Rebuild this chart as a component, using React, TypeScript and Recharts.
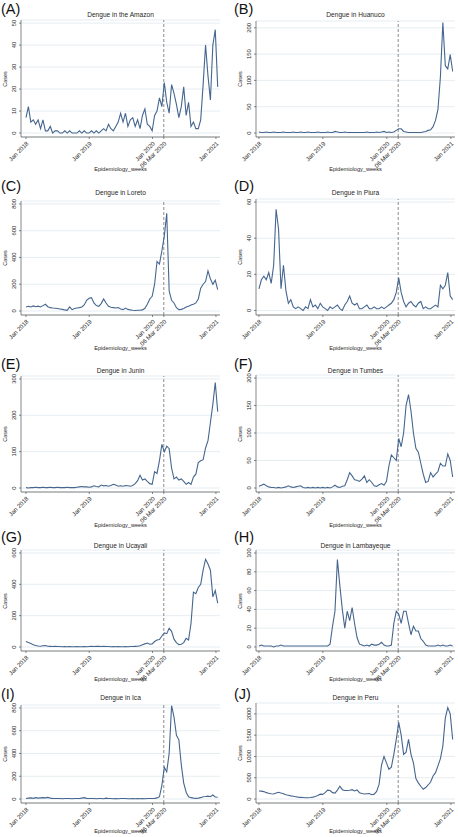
import React from "react";
import { LineChart, Line, XAxis, YAxis, CartesianGrid, ReferenceLine } from "recharts";

// epidemiological week index (0 = first week of Jan 2018), sampled every 2 weeks
const weeks = [
  0, 2, 4, 6, 8, 10, 12, 14, 16, 18, 20, 22, 24, 26, 28, 30, 32, 34, 36, 38,
  40, 42, 44, 46, 48, 50, 52, 54, 56, 58, 60, 62, 64, 66, 68, 70, 72, 74, 76, 78,
  80, 82, 84, 86, 88, 90, 92, 94, 96, 98, 100, 102, 104, 106, 108, 110, 112, 114, 116, 118,
  120, 122, 124, 126, 128, 130, 132, 134, 136, 138, 140, 142, 144, 146, 148, 150, 152, 154, 156, 158,
];

const xTickWeeks = [0, 52.14, 104.29, 113.57, 156.57];
const xTickLabels = ["Jan 2018", "Jan 2019", "Jan 2020", "06 Mar 2020", "Jan 2021"];
const lockdownWeek = 113.57;

const amazon = [
  7, 12, 5, 6, 4, 6, 2, 6, 1, 1, 3, 0, 1, 1, 0, 0, 1, 0, 1, 0,
  0, 0, 1, 0, 1, 0, 0, 1, 0, 1, 0, 1, 2, 1, 4, 2, 1, 3, 5, 9,
  5, 9, 3, 6, 7, 3, 6, 2, 8, 11, 4, 3, 1, 8, 10, 16, 12, 23, 14, 9,
  22, 18, 13, 7, 12, 21, 8, 14, 3, 5, 2, 2, 6, 22, 40, 26, 15, 40, 47, 21,
];
const huanuco = [
  2, 1, 1, 2, 1, 1, 2, 1, 1, 1, 2, 1, 1, 1, 2, 1, 1, 2, 1, 1,
  2, 1, 1, 1, 2, 1, 1, 1, 2, 1, 1, 3, 2, 1, 1, 2, 1, 1, 1, 1,
  1, 1, 1, 1, 2, 1, 1, 1, 2, 1, 2, 3, 1, 2, 1, 2, 5, 8, 8, 3,
  2, 1, 1, 1, 1, 1, 1, 2, 3, 5, 6, 12, 24, 45, 107, 210, 128, 122, 149, 117,
];
const loreto = [
  30, 35, 30, 38, 32, 36, 30, 40, 50, 32, 25, 22, 20, 18, 15, 12, 8, 5, 30, 10,
  18, 22, 25, 30, 45, 80, 95, 100, 60, 40, 35, 55, 90, 60, 35, 28, 25, 22, 25, 15,
  10, 22, 12, 8, 5, 4, 5, 6, 8, 20, 50, 90, 110, 200, 370, 350, 450, 560, 730, 150,
  80, 60, 25, 10, 12, 18, 30, 35, 45, 50, 60, 90, 170, 200, 220, 300, 240, 200, 230, 160,
];
const piura = [
  12, 17, 19, 17, 21, 15, 25, 56, 45, 12, 25, 11, 4, 6, 2, 1, 2, 1, 0, 2,
  1, 6, 2, 3, 1, 4, 2, 1, 0, 2, 1, 2, 3, 1, 0, 3, 5, 8, 4, 3,
  4, 1, 1, 2, 3, 1, 1, 2, 1, 1, 2, 1, 2, 3, 4, 6, 10, 18, 10, 5,
  2, 4, 5, 3, 2, 4, 5, 1, 2, 1, 1, 2, 3, 2, 14, 12, 14, 21, 8, 6,
];
const junin = [
  1, 0, 1, 1, 2, 1, 1, 2, 1, 1, 2, 1, 1, 2, 1, 1, 1, 2, 1, 1,
  1, 2, 3, 4, 3, 3, 2, 3, 6, 4, 3, 8, 6, 7, 5, 7, 10, 8, 5, 6,
  5, 7, 6, 5, 7, 12, 20, 35, 22, 25, 18, 12, 10, 45, 40, 75, 120, 100, 115, 108,
  55, 25, 30, 22, 25, 18, 10, 15, 10, 30, 38, 70, 75, 78, 110, 130, 180, 230, 290, 210,
];
const tumbes = [
  3, 5, 7, 4, 2, 1, 1, 0, 1, 0, 1, 2, 4, 2, 1, 2, 3, 4, 1, 0,
  1, 0, 1, 0, 1, 0, 1, 0, 1, 0, 2, 5, 2, 1, 3, 4, 15, 28, 22, 15,
  14, 12, 16, 22, 10, 15, 10, 4, 3, 6, 8, 5, 12, 40, 60, 55, 50, 90, 75, 100,
  150, 170, 140, 100, 72, 65, 45, 25, 10, 12, 28, 20, 25, 30, 45, 40, 40, 62, 50, 20,
];
const ucayali = [
  35, 28, 22, 15, 10, 6, 5, 8, 10, 5, 4, 3, 4, 3, 3, 2, 3, 2, 3, 2,
  2, 3, 2, 2, 3, 2, 3, 4, 3, 5, 4, 3, 4, 3, 3, 2, 3, 2, 3, 2,
  2, 3, 2, 3, 3, 4, 5, 8, 15, 20, 25, 18, 20, 35, 45, 48, 70, 90, 85, 120,
  100, 50, 28, 15, 18, 28, 55, 45, 150, 350, 340, 380, 400, 490, 560, 530, 490, 320, 360, 280,
];
const lambayeque = [
  1, 2, 1, 1, 1, 1, 0, 1, 1, 2, 1, 1, 1, 1, 1, 1, 1, 1, 1, 1,
  1, 1, 1, 1, 1, 1, 1, 1, 1, 3, 22, 38, 93, 65, 40, 20, 38, 28, 42, 25,
  10, 3, 2, 1, 2, 1, 3, 2, 2, 3, 5, 2, 1, 1, 2, 25, 38, 35, 25, 38,
  38, 25, 13, 22, 17, 17, 9, 6, 2, 1, 1, 1, 1, 2, 1, 2, 1, 1, 2, 1,
];
const ica = [
  5, 8, 10, 6, 12, 8, 10, 12, 10, 14, 8, 6, 5, 4, 5, 3, 4, 5, 4, 3,
  5, 4, 4, 8, 12, 6, 5, 4, 4, 3, 4, 5, 3, 8, 5, 4, 3, 4, 3, 4,
  5, 4, 3, 3, 4, 3, 4, 3, 4, 3, 4, 5, 4, 6, 10, 20, 120, 280, 240, 400,
  820, 720, 560, 520, 300, 140, 60, 20, 12, 8, 6, 8, 12, 20, 22, 25, 20, 35, 18, 15,
];
const peru = [
  190, 185, 175, 150, 135, 125, 120, 140, 160, 140, 125, 100, 90, 75, 65, 55, 45, 40, 35, 30,
  30, 35, 45, 60, 85, 115, 110, 150, 210, 200, 150, 140, 210, 300, 220, 200, 200, 205, 220, 190,
  215, 150, 130, 120, 125, 130, 100, 115, 180, 350, 800, 1000, 850, 700, 750, 1050, 1400, 1800, 1500, 1050,
  1100, 1400, 1050, 850, 480, 380, 300, 230, 270, 330, 400, 540, 620, 780, 950, 1250, 1900, 2150, 2000, 1400,
];

const FONT = '"Liberation Sans", Arial, Helvetica, sans-serif';
const LINE = "#46668f";
const INK = "#262626";

// rows: y of panel letter, title, x-axis title and x-axis line
const rows = [
  { label: 9, title: 15, epi: 170, axis: 137 },
  { label: 186, title: 193, epi: 349, axis: 315 },
  { label: 364, title: 371, epi: 526, axis: 492 },
  { label: 537, title: 546, epi: 680, axis: 651 },
  { label: 694, title: 698, epi: 832, axis: 803 },
];

// columns: chart left, y-axis width, right margin, x domain
const cols = [
  { x: 0, yw: 21, mr: 9, domain: [-4.1, 159.9], labelX: 1 },
  { x: 229, yw: 27, mr: 3, domain: [-2.4, 159.9], labelX: 234 },
];

const panels = [
  { tag: "(A)", title: "Dengue in the Amazon", values: amazon, ticks: [0, 10, 20, 30, 40, 50], domain: [-1.8, 51.4], col: 0, row: 0, top: 20 },
  { tag: "(B)", title: "Dengue in Huanuco", values: huanuco, ticks: [0, 50, 100, 150, 200], domain: [-7.6, 213], col: 1, row: 0, top: 21 },
  { tag: "(C)", title: "Dengue in Loreto", values: loreto, ticks: [0, 200, 400, 600, 800], domain: [-30, 822], col: 0, row: 1, top: 201 },
  { tag: "(D)", title: "Dengue in Piura", values: piura, ticks: [0, 20, 40, 60], domain: [-2.5, 61.7], col: 1, row: 1, top: 199 },
  { tag: "(E)", title: "Dengue in Junin", values: junin, ticks: [0, 100, 200, 300], domain: [-11, 308], col: 0, row: 2, top: 376 },
  { tag: "(F)", title: "Dengue in Tumbes", values: tumbes, ticks: [0, 50, 100, 150, 200], domain: [-7.3, 205.5], col: 1, row: 2, top: 375 },
  { tag: "(G)", title: "Dengue in Ucayali", values: ucayali, ticks: [0, 200, 400, 600], domain: [-25.5, 619], col: 0, row: 3, top: 550 },
  { tag: "(H)", title: "Dengue in Lambayeque", values: lambayeque, ticks: [0, 20, 40, 60, 80, 100], domain: [-4.3, 103.2], col: 1, row: 3, top: 550 },
  { tag: "(I)", title: "Dengue in Ica", values: ica, ticks: [0, 200, 400, 600, 800], domain: [-35, 826], col: 0, row: 4, top: 705 },
  { tag: "(J)", title: "Dengue in Peru", values: peru, ticks: [0, 500, 1000, 1500, 2000], domain: [-93, 2256], col: 1, row: 4, top: 703 },
];

function XTick({ x, y, payload }: any) {
  const i = xTickWeeks.indexOf(payload.value);
  const ax = x + 3;
  const ay = y + 5;
  return (
    <text x={ax} y={ay} transform={`rotate(-45 ${ax} ${ay})`} textAnchor="end" fontSize={6.1} fill={INK} fontFamily={FONT}>
      {xTickLabels[i]}
    </text>
  );
}

function YTick({ x, y, payload }: any) {
  const ax = x - 3;
  return (
    <text x={ax} y={y} transform={`rotate(-90 ${ax} ${y})`} textAnchor="middle" fontSize={5.8} fill={INK} fontFamily={FONT}>
      {payload.value}
    </text>
  );
}

function Centered({ x, y, size, children, rotate }: any) {
  return (
    <div
      style={{
        position: "absolute",
        left: x,
        top: y,
        transform: `translate(-50%, -50%)${rotate ? " rotate(-90deg)" : ""}`,
        fontSize: size,
        lineHeight: 1,
        whiteSpace: "nowrap",
        color: INK,
        fontFamily: FONT,
      }}
    >
      {children}
    </div>
  );
}

function Panel({ p }: any) {
  const row = rows[p.row];
  const col = cols[p.col];
  const pad = 4;
  const xh = 38;
  const height = row.axis - p.top + pad + xh;
  const data = weeks.map((w, i) => ({ w, v: p.values[i] }));
  const plotLeft = col.x + col.yw;
  const plotRight = col.x + 229 - col.mr;
  const cx = (plotLeft + plotRight) / 2;

  return (
    <>
      <div style={{ position: "absolute", left: col.x, top: p.top - pad }}>
        <LineChart width={229} height={height} data={data} margin={{ top: pad, right: col.mr, left: 0, bottom: 0 }}>
          <CartesianGrid vertical={false} stroke="#e0e9ed" strokeWidth={0.8} />
          <XAxis
            dataKey="w"
            type="number"
            domain={col.domain}
            ticks={xTickWeeks}
            interval={0}
            height={xh}
            tickSize={2}
            tickMargin={0}
            tick={<XTick />}
            axisLine={{ stroke: "#555", strokeWidth: 0.7 }}
            tickLine={{ stroke: "#555", strokeWidth: 0.7 }}
            allowDataOverflow
          />
          <YAxis
            type="number"
            domain={p.domain}
            ticks={p.ticks}
            interval={0}
            width={col.yw}
            tickSize={2}
            tickMargin={0}
            tick={<YTick />}
            axisLine={{ stroke: "#555", strokeWidth: 0.7 }}
            tickLine={{ stroke: "#555", strokeWidth: 0.7 }}
            allowDataOverflow
          />
          <ReferenceLine x={lockdownWeek} stroke="#6e6e6e" strokeWidth={0.8} strokeDasharray="3 2" />
          <Line type="linear" dataKey="v" stroke={LINE} strokeWidth={1.1} dot={false} isAnimationActive={false} />
        </LineChart>
      </div>
      <div
        style={{
          position: "absolute",
          left: col.labelX,
          top: row.label,
          transform: "translateY(-50%)",
          fontSize: 14.5,
          lineHeight: 1,
          fontFamily: FONT,
          color: "#111",
        }}
      >
        {p.tag}
      </div>
      <Centered x={cx} y={row.title} size={6.6}>{p.title}</Centered>
      <Centered x={cx} y={row.epi} size={5.6}>Epidemiology_weeks</Centered>
      <Centered x={plotLeft - 15} y={(p.top + row.axis) / 2} size={5.4} rotate>Cases</Centered>
    </>
  );
}

export default function App() {
  return (
    <div
      style={{
        position: "absolute",
        left: 0,
        top: 0,
        width: 458,
        height: 837,
        background: "#fff",
        overflow: "hidden",
      }}
    >
      {panels.map((p) => (
        <Panel key={p.tag} p={p} />
      ))}
    </div>
  );
}
